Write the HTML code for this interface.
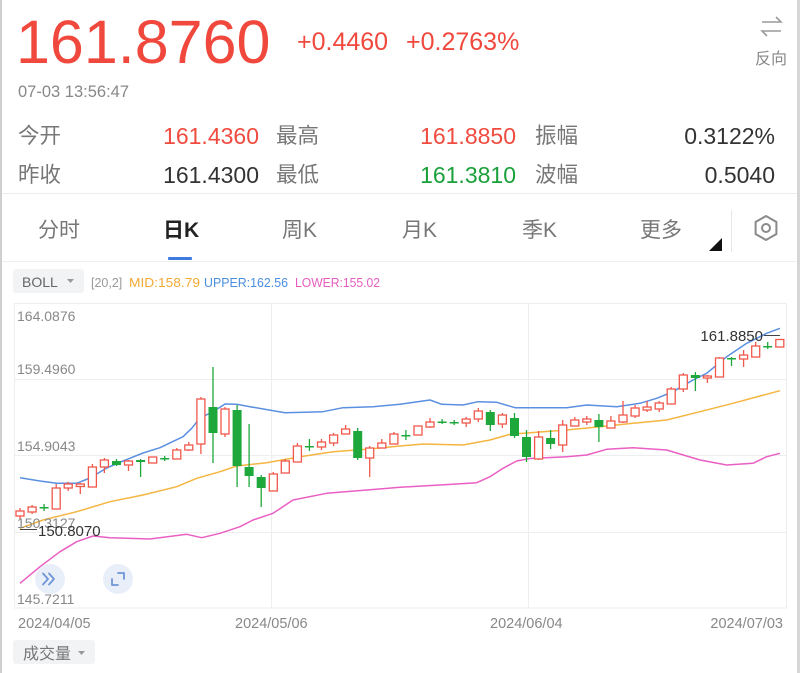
<!DOCTYPE html>
<html><head><meta charset="utf-8"><style>
html,body{margin:0;padding:0;background:#fff;}
svg{display:block;}
text{font-family:"Liberation Sans","Noto Sans CJK SC",sans-serif;}
</style></head><body>
<svg width="800" height="673" viewBox="0 0 800 673" xmlns="http://www.w3.org/2000/svg">
<rect x="0" y="0" width="800" height="673" fill="#fff"/>
<rect x="0" y="0" width="2" height="673" fill="#cfcfcf"/>
<rect x="797" y="0" width="3" height="673" fill="#d6d6d6"/>

<text x="16" y="63" font-size="61" fill="#f0483c">161.8760</text>
<text x="297" y="50" font-size="25" fill="#f0483c">+0.4460</text>
<text x="406" y="50" font-size="25" fill="#f0483c">+0.2763%</text>
<g stroke="#9a9a9a" stroke-width="1.6" fill="none">
<path d="M762 22 H781 L776 17"/>
<path d="M781 31 H762 L767 36"/>
</g>
<text x="755" y="64" font-size="16" fill="#888">反向</text>
<text x="18" y="97" font-size="16.5" fill="#888">07-03 13:56:47</text>

<text x="18" y="143" font-size="21.5" fill="#777">今开</text>
<text x="259" y="144" font-size="23" fill="#ef4b3f" text-anchor="end">161.4360</text>
<text x="276" y="143" font-size="21.5" fill="#777">最高</text>
<text x="516" y="144" font-size="23" fill="#ef4b3f" text-anchor="end">161.8850</text>
<text x="535" y="143" font-size="21.5" fill="#777">振幅</text>
<text x="775" y="144" font-size="23" fill="#333" text-anchor="end">0.3122%</text>

<text x="18" y="182" font-size="21.5" fill="#777">昨收</text>
<text x="259" y="183" font-size="23" fill="#333" text-anchor="end">161.4300</text>
<text x="276" y="182" font-size="21.5" fill="#777">最低</text>
<text x="516" y="183" font-size="23" fill="#1aa03a" text-anchor="end">161.3810</text>
<text x="535" y="182" font-size="21.5" fill="#777">波幅</text>
<text x="775" y="183" font-size="23" fill="#333" text-anchor="end">0.5040</text>

<rect x="2" y="193" width="795" height="1" fill="#ececec"/>

<text x="38" y="237" font-size="21" fill="#777">分时</text>
<text x="163" y="237" font-size="21" fill="#222" font-weight="bold">日K</text>
<text x="282" y="237" font-size="21" fill="#777">周K</text>
<text x="402" y="237" font-size="21" fill="#777">月K</text>
<text x="522" y="237" font-size="21" fill="#777">季K</text>
<text x="640" y="237" font-size="21" fill="#777">更多</text>
<polygon points="722,238 722,251 709,251" fill="#111"/>
<rect x="731" y="210" width="1" height="42" fill="#e6e6e6"/>
<polygon points="766,216 776.4,222 776.4,234 766,240 755.6,234 755.6,222" fill="none" stroke="#8a8a8a" stroke-width="2"/>
<circle cx="766" cy="228" r="4" fill="none" stroke="#8a8a8a" stroke-width="2"/>
<rect x="168" y="257" width="24" height="3" fill="#3d7be0" rx="1"/>
<rect x="2" y="261" width="795" height="1" fill="#efefef"/>

<rect x="13" y="269" width="71" height="24" rx="3" fill="#f2f3f5"/>
<text x="22" y="287" font-size="14" fill="#666">BOLL</text>
<polygon points="67,279 74,279 70.5,283" fill="#999"/>
<text x="91" y="287" font-size="12.5" fill="#999">[20,2]</text>
<text x="129" y="287" font-size="13" fill="#f2a935" textLength="71" lengthAdjust="spacingAndGlyphs">MID:158.79</text>
<text x="204" y="287" font-size="13" fill="#4a8fe0" textLength="84" lengthAdjust="spacingAndGlyphs">UPPER:162.56</text>
<text x="295" y="287" font-size="13" fill="#e85dbf" textLength="85" lengthAdjust="spacingAndGlyphs">LOWER:155.02</text>

<g stroke="#eeeeee" stroke-width="1" fill="none">
<rect x="14.5" y="303.5" width="772" height="304.5"/>
<line x1="14" y1="379.5" x2="787" y2="379.5"/>
<line x1="14" y1="455.5" x2="787" y2="455.5"/>
<line x1="14" y1="532.5" x2="787" y2="532.5"/>
<line x1="271.5" y1="303" x2="271.5" y2="608"/>
<line x1="528.5" y1="303" x2="528.5" y2="608"/>
</g>

<g fill="none" stroke-width="1.5" stroke-linejoin="round">
<polyline stroke="#5b8fe0" points="20,477.7 40,481 56.7,483.3 76.7,483.3 90,478 106.7,468 123,461 143,453 160,447.7 183,436.7 191.7,428.3 200,418 213,411.7 225,404 236.7,404.3 250,406.7 285,412.7 323,411.7 343,407.7 373,406.7 400,404.3 430,400 441.7,404.3 463,405 478,401.7 496.7,402.3 515,407.7 530,407.7 566.7,407.7 586.7,405 616.7,406.7 640,403.3 656.7,398.3 673,391.7 693,380 706.7,373.3 726.7,356.7 746.7,343.3 766.7,333.3 780,328.3"/>
<polyline stroke="#f5b540" points="20,528.3 43,520 76.7,511.7 110,501.7 143,495 176.7,486.7 196.7,478.3 220,471.7 236.7,466 266.7,462.7 300,456.7 333,451.7 366.7,449.3 400,446 423,444 463,445 490,440 510,434.3 530,432.7 566.7,430 600,426.7 633,423.3 666.7,420 700,411.7 733,403.3 760,396 780,390.7"/>
<polyline stroke="#ea5fc4" points="20,583.3 40,566.7 60,551.7 76.7,541.7 93,536 110,537.7 150,539 186.7,534.3 201.7,537.7 220,533.3 240,526.7 253,520 273,513.3 293,500 326.7,493.3 366.7,490 400,487.3 440,485 476.7,482.7 490,476.7 503,468.3 516.7,461 530,458.5 566.7,456.7 586.7,455 606.7,449.3 633,447.7 666.7,450 700,460 726.7,465 753,463.3 766.7,456.7 780,453.3"/>
</g>

<g stroke="#f0584c" stroke-width="1.3" fill="#fff">
<line x1="20" y1="508" x2="20" y2="519"/><rect x="16" y="511" width="8" height="5"/>
<line x1="32.1" y1="505" x2="32.1" y2="514"/><rect x="28.1" y="507" width="8" height="5"/>
<line x1="56.2" y1="484" x2="56.2" y2="509"/><rect x="52.2" y="488" width="8" height="21"/>
<line x1="68.2" y1="482" x2="68.2" y2="491"/><rect x="64.2" y="484" width="8" height="4"/>
<line x1="80.3" y1="483" x2="80.3" y2="494"/><rect x="76.3" y="484" width="8" height="2.5"/>
<line x1="92.4" y1="464" x2="92.4" y2="487"/><rect x="88.4" y="467" width="8" height="20"/>
<line x1="104.4" y1="458" x2="104.4" y2="473"/><rect x="100.4" y="460" width="8" height="7"/>
<line x1="128.5" y1="460" x2="128.5" y2="471"/><rect x="124.5" y="461" width="8" height="4"/>
<line x1="152.7" y1="457" x2="152.7" y2="463"/><rect x="148.7" y="457" width="8" height="6"/>
<line x1="176.8" y1="448" x2="176.8" y2="459"/><rect x="172.8" y="450" width="8" height="9"/>
<line x1="188.8" y1="442" x2="188.8" y2="451"/><rect x="184.8" y="445" width="8" height="5"/>
<line x1="200.9" y1="397" x2="200.9" y2="454"/><rect x="196.9" y="399" width="8" height="45"/>
<line x1="225" y1="407" x2="225" y2="437"/><rect x="221" y="409" width="8" height="25"/>
<line x1="273.3" y1="472" x2="273.3" y2="491"/><rect x="269.3" y="474" width="8" height="17"/>
<line x1="285.3" y1="459" x2="285.3" y2="473"/><rect x="281.3" y="461" width="8" height="12"/>
<line x1="297.4" y1="443" x2="297.4" y2="462"/><rect x="293.4" y="446" width="8" height="16"/>
<line x1="321.5" y1="439" x2="321.5" y2="450"/><rect x="317.5" y="442" width="8" height="5"/>
<line x1="333.6" y1="433" x2="333.6" y2="446"/><rect x="329.6" y="435" width="8" height="8"/>
<line x1="345.6" y1="425" x2="345.6" y2="434"/><rect x="341.6" y="429" width="8" height="5"/>
<line x1="369.7" y1="446" x2="369.7" y2="477"/><rect x="365.7" y="448" width="8" height="10"/>
<line x1="381.8" y1="439" x2="381.8" y2="448"/><rect x="377.8" y="443" width="8" height="5"/>
<line x1="393.9" y1="432" x2="393.9" y2="444"/><rect x="389.9" y="434" width="8" height="10"/>
<line x1="418" y1="426" x2="418" y2="435"/><rect x="414" y="426" width="8" height="9"/>
<line x1="430" y1="418" x2="430" y2="428"/><rect x="426" y="422" width="8" height="5"/>
<line x1="466.2" y1="417" x2="466.2" y2="427"/><rect x="462.2" y="419" width="8" height="4"/>
<line x1="478.3" y1="408" x2="478.3" y2="422"/><rect x="474.3" y="411" width="8" height="8"/>
<line x1="502.4" y1="413" x2="502.4" y2="428"/><rect x="498.4" y="415" width="8" height="9"/>
<line x1="538.6" y1="431" x2="538.6" y2="460"/><rect x="534.6" y="437" width="8" height="22"/>
<line x1="562.7" y1="420" x2="562.7" y2="452"/><rect x="558.7" y="425" width="8" height="20"/>
<line x1="574.8" y1="417" x2="574.8" y2="426"/><rect x="570.8" y="420" width="8" height="6"/>
<line x1="586.8" y1="416" x2="586.8" y2="425"/><rect x="582.8" y="419" width="8" height="3"/>
<line x1="610.9" y1="416" x2="610.9" y2="428"/><rect x="606.9" y="421" width="8" height="7"/>
<line x1="623" y1="401" x2="623" y2="423"/><rect x="619" y="415" width="8" height="7"/>
<line x1="635.1" y1="405" x2="635.1" y2="418"/><rect x="631.1" y="408" width="8" height="8"/>
<line x1="647.1" y1="401" x2="647.1" y2="412"/><rect x="643.1" y="407" width="8" height="3"/>
<line x1="659.2" y1="401" x2="659.2" y2="412"/><rect x="655.2" y="403" width="8" height="6"/>
<line x1="671.2" y1="387" x2="671.2" y2="404"/><rect x="667.2" y="389" width="8" height="15"/>
<line x1="683.3" y1="373" x2="683.3" y2="392"/><rect x="679.3" y="375" width="8" height="14"/>
<line x1="707.4" y1="375" x2="707.4" y2="383"/><rect x="703.4" y="376" width="8" height="2"/>
<line x1="719.5" y1="357" x2="719.5" y2="377"/><rect x="715.5" y="358" width="8" height="19"/>
<line x1="743.6" y1="350" x2="743.6" y2="367"/><rect x="739.6" y="355" width="8" height="4"/>
<line x1="755.7" y1="342" x2="755.7" y2="357"/><rect x="751.7" y="346" width="8" height="11"/>
<line x1="779.8" y1="339.5" x2="779.8" y2="347"/><rect x="775.8" y="339.5" width="8" height="7.5"/>
</g>

<g stroke="#1ea83c" stroke-width="1.3" fill="#1ea83c">
<line x1="44.1" y1="504" x2="44.1" y2="511"/><rect x="39.6" y="507" width="9" height="1.5" stroke="none"/>
<line x1="116.5" y1="459" x2="116.5" y2="466"/><rect x="112" y="461" width="9" height="4" stroke="none"/>
<line x1="140.6" y1="459" x2="140.6" y2="477"/><rect x="136.1" y="460" width="9" height="2" stroke="none"/>
<line x1="164.7" y1="456" x2="164.7" y2="461"/><rect x="160.2" y="458" width="9" height="1.5" stroke="none"/>
<line x1="213" y1="367" x2="213" y2="463"/><rect x="208.5" y="407" width="9" height="26" stroke="none"/>
<line x1="237.1" y1="405" x2="237.1" y2="487"/><rect x="232.6" y="410" width="9" height="56" stroke="none"/>
<line x1="249.1" y1="424" x2="249.1" y2="487"/><rect x="244.6" y="467" width="9" height="9" stroke="none"/>
<line x1="261.2" y1="475" x2="261.2" y2="507"/><rect x="256.7" y="477" width="9" height="11" stroke="none"/>
<line x1="309.4" y1="439" x2="309.4" y2="451"/><rect x="304.9" y="446" width="9" height="1.5" stroke="none"/>
<line x1="357.7" y1="428" x2="357.7" y2="460"/><rect x="353.2" y="431" width="9" height="27" stroke="none"/>
<line x1="405.9" y1="430" x2="405.9" y2="440"/><rect x="401.4" y="435" width="9" height="1.5" stroke="none"/>
<line x1="442.1" y1="419" x2="442.1" y2="424"/><rect x="437.6" y="421.5" width="9" height="1.5" stroke="none"/>
<line x1="454.2" y1="420" x2="454.2" y2="425"/><rect x="449.7" y="422" width="9" height="1.5" stroke="none"/>
<line x1="490.3" y1="410" x2="490.3" y2="431"/><rect x="485.8" y="412" width="9" height="13" stroke="none"/>
<line x1="514.5" y1="413" x2="514.5" y2="438"/><rect x="510" y="418" width="9" height="18" stroke="none"/>
<line x1="526.5" y1="430" x2="526.5" y2="462"/><rect x="522" y="437" width="9" height="20" stroke="none"/>
<line x1="550.6" y1="430" x2="550.6" y2="449"/><rect x="546.1" y="438" width="9" height="6" stroke="none"/>
<line x1="598.9" y1="414" x2="598.9" y2="442"/><rect x="594.4" y="420" width="9" height="7" stroke="none"/>
<line x1="695.4" y1="372" x2="695.4" y2="391"/><rect x="690.9" y="375" width="9" height="3" stroke="none"/>
<line x1="731.5" y1="357" x2="731.5" y2="366"/><rect x="727" y="358" width="9" height="1.5" stroke="none"/>
<line x1="767.7" y1="342" x2="767.7" y2="349"/><rect x="763.2" y="346" width="9" height="1.5" stroke="none"/>
</g>

<g font-size="14" fill="#888">
<text x="17" y="321">164.0876</text>
<text x="17" y="374">159.4960</text>
<text x="17" y="451">154.9043</text>
<text x="17" y="528">150.3127</text>
<text x="17" y="604">145.7211</text>
</g>

<line x1="764" y1="335.5" x2="780" y2="335.5" stroke="#444" stroke-width="1"/>
<text x="763" y="341" font-size="15" fill="#333" text-anchor="end">161.8850</text>
<line x1="20" y1="529.5" x2="37" y2="529.5" stroke="#444" stroke-width="1"/>
<text x="38" y="536" font-size="15" fill="#333">150.8070</text>

<circle cx="50" cy="579" r="15" fill="#e6edf8" opacity="0.9"/>
<g stroke="#6f95d6" stroke-width="1.8" fill="none" stroke-linecap="round" stroke-linejoin="round">
<path d="M43 573.5 L48 579 L43 584.5"/>
<path d="M49 573.5 L54 579 L49 584.5"/>
</g>
<circle cx="118" cy="579" r="15" fill="#e6edf8" opacity="0.9"/>
<g stroke="#6f95d6" stroke-width="1.8" fill="none" stroke-linecap="round" stroke-linejoin="round">
<path d="M118 573 H124 V579"/>
<path d="M118 585 H112 V579"/>
</g>

<g font-size="14.5" fill="#888">
<text x="18" y="628">2024/04/05</text>
<text x="235" y="628">2024/05/06</text>
<text x="490" y="628">2024/06/04</text>
<text x="783" y="628" text-anchor="end">2024/07/03</text>
</g>

<rect x="13" y="640" width="82" height="24" rx="3" fill="#f2f3f5"/>
<text x="23" y="659" font-size="16" fill="#777">成交量</text>
<polygon points="78,651 85,651 81.5,655" fill="#999"/>
</svg>
</body></html>
